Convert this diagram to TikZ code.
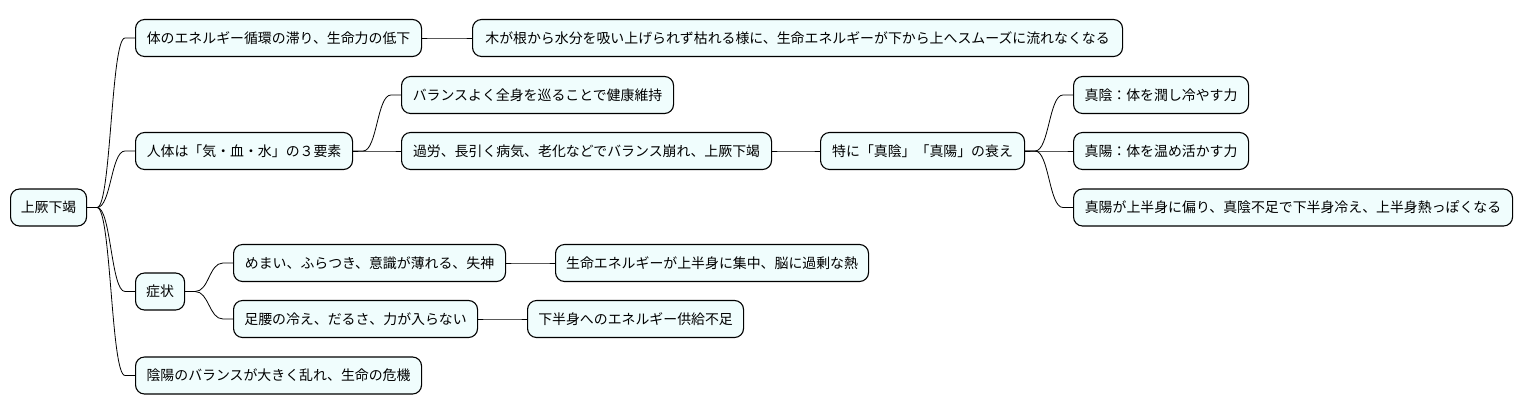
\documentclass[tikz,border=0pt]{standalone}
\usepackage{fontspec}
\newfontfamily\jpfont{Noto Sans CJK JP}
\usetikzlibrary{calc}
\definecolor{nodefill}{RGB}{240,253,253}
\tikzset{
  mmnode/.style={draw=black, line width=1.1pt, fill=nodefill, rounded corners=9pt,
    anchor=west, minimum height=37pt, inner sep=0pt, align=center,
    font=\jpfont\fontsize{13.9}{16}\selectfont},
  link/.style={draw=black, line width=0.8pt},
}
\newcommand\mmlink[2]{\draw[link] (#1.east) -- ++(10,0) .. controls +(14,0) and +(-14,0) .. ([xshift=-10pt]#2.west) -- (#2.west);}
\begin{document}
\begin{tikzpicture}[x=1pt,y=-1pt]
\useasboundingbox (0,0) rectangle (1524,415);
\node[mmnode, minimum width=76pt]  (root) at (10,207.5) {上厥下竭};
\node[mmnode, minimum width=286pt] (a1) at (135,38) {体のエネルギー循環の滞り、生命力の低下};
\node[mmnode, minimum width=217pt] (a2) at (135,151) {人体は「気・血・水」の３要素};
\node[mmnode, minimum width=49pt]  (a3) at (135,291.5) {症状};
\node[mmnode, minimum width=286pt] (a4) at (135,375.5) {陰陽のバランスが大きく乱れ、生命の危機};
\node[mmnode, minimum width=650pt] (b1) at (472,38) {木が根から水分を吸い上げられず枯れる様に、生命エネルギーが下から上へスムーズに流れなくなる};
\node[mmnode, minimum width=272pt] (b2) at (401,95) {バランスよく全身を巡ることで健康維持};
\node[mmnode, minimum width=370pt] (b3) at (401,151) {過労、長引く病気、老化などでバランス崩れ、上厥下竭};
\node[mmnode, minimum width=204pt] (c1) at (820,151) {特に「真陰」「真陽」の衰え};
\node[mmnode, minimum width=175pt] (d1) at (1073,95) {真陰：体を潤し冷やす力};
\node[mmnode, minimum width=175pt] (d2) at (1073,151) {真陽：体を温め活かす力};
\node[mmnode, minimum width=439pt] (d3) at (1073,207.5) {真陽が上半身に偏り、真陰不足で下半身冷え、上半身熱っぽくなる};
\node[mmnode, minimum width=272pt] (s1) at (233,263) {めまい、ふらつき、意識が薄れる、失神};
\node[mmnode, minimum width=244pt] (s2) at (233,319) {足腰の冷え、だるさ、力が入らない};
\node[mmnode, minimum width=313pt] (t1) at (555,263) {生命エネルギーが上半身に集中、脳に過剰な熱};
\node[mmnode, minimum width=216pt] (t2) at (527,319) {下半身へのエネルギー供給不足};
\mmlink{root}{a1}
\mmlink{root}{a2}
\mmlink{root}{a3}
\mmlink{root}{a4}
\mmlink{a1}{b1}
\mmlink{a2}{b2}
\mmlink{a2}{b3}
\mmlink{b3}{c1}
\mmlink{c1}{d1}
\mmlink{c1}{d2}
\mmlink{c1}{d3}
\mmlink{a3}{s1}
\mmlink{a3}{s2}
\mmlink{s1}{t1}
\mmlink{s2}{t2}
\end{tikzpicture}
\end{document}
